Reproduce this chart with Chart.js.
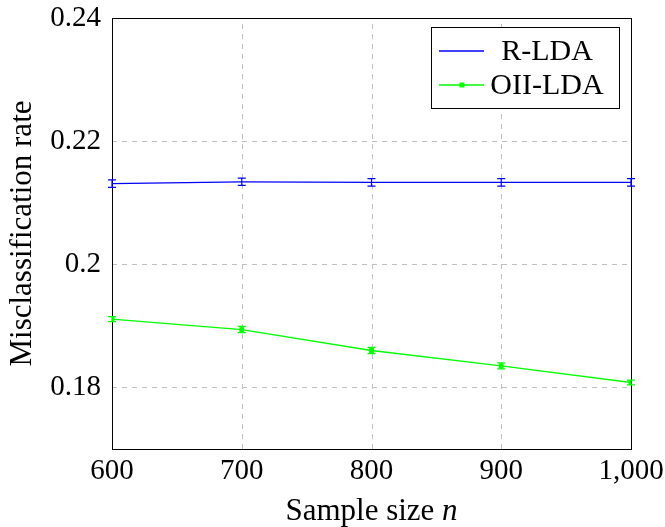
<!DOCTYPE html>
<html>
<head>
<meta charset="utf-8">
<script src="https://cdn.jsdelivr.net/npm/chart.js@4/dist/chart.umd.min.js"></script>
<style>
  html, body { margin: 0; padding: 0; background: #fff; }
  #wrap { width: 665px; height: 527px; }
</style>
</head>
<body>
<div id="wrap"><canvas id="chart"></canvas></div>
<script>
const sampleSizes = [600, 700, 800, 900, 1000];
const rldaRates = [0.2131, 0.2134, 0.2133, 0.2133, 0.2133];
const rldaErrors = [0.0006, 0.0006, 0.0006, 0.0006, 0.0006];
const oiiRates = [0.1911, 0.1894, 0.1860, 0.1835, 0.1808];
const oiiErrors = [0.0004, 0.0005, 0.0005, 0.0005, 0.0004];
const yTickValues = [0.18, 0.2, 0.22, 0.24];
const xTickValues = [600, 700, 800, 900, 1000];

const FONT = "'Liberation Serif', 'DejaVu Serif', serif";

const toPoints = (xs, ys) => xs.map((x, i) => ({ x: x, y: ys[i] }));

// dashed grid + black frame, drawn under the lines
const gridFrame = {
    id: 'gridFrame',
    beforeDatasetsDraw(chart) {
        const a = chart.chartArea;
        const ctx = chart.ctx;
        const xs = chart.scales.x, ys = chart.scales.y;
        ctx.save();
        ctx.strokeStyle = '#c0c0c0';
        ctx.lineWidth = 1;
        ctx.setLineDash([5, 5]);
        xTickValues.forEach(v => {
            const px = Math.round(xs.getPixelForValue(v)) + 0.5;
            ctx.beginPath(); ctx.moveTo(px, a.bottom); ctx.lineTo(px, a.top); ctx.stroke();
        });
        yTickValues.forEach(v => {
            const py = Math.round(ys.getPixelForValue(v)) + 0.5;
            ctx.beginPath(); ctx.moveTo(a.left, py); ctx.lineTo(a.right, py); ctx.stroke();
        });
        ctx.setLineDash([]);
        ctx.strokeStyle = '#000';
        ctx.strokeRect(Math.round(a.left) + 0.5, Math.round(a.top) + 0.5,
            Math.round(a.right - a.left), Math.round(a.bottom - a.top));
        ctx.restore();
    }
};

// error bars drawn from the data arrays through the chart scales
const errorBars = {
    id: 'errorBars',
    afterDatasetsDraw(chart) {
        const ctx = chart.ctx;
        const xs = chart.scales.x, ys = chart.scales.y;
        chart.data.datasets.forEach(ds => {
            ctx.save();
            ctx.strokeStyle = ds.borderColor;
            ctx.lineWidth = 1.2;
            ds.data.forEach((p, i) => {
                const err = ds.errors[i];
                const px = xs.getPixelForValue(p.x);
                const top = ys.getPixelForValue(p.y + err);
                const bot = ys.getPixelForValue(p.y - err);
                ctx.beginPath();
                ctx.moveTo(px, top); ctx.lineTo(px, bot);
                ctx.moveTo(px - 4, top); ctx.lineTo(px + 4, top);
                ctx.moveTo(px - 4, bot); ctx.lineTo(px + 4, bot);
                ctx.stroke();
            });
            ctx.restore();
        });
    }
};

// legend box in the top right and x axis title with italic n
const extras = {
    id: 'extras',
    afterDraw(chart) {
        const ctx = chart.ctx;
        const area = chart.chartArea;
        ctx.save();
        const bx = 431, by = 27, bw = 188, bh = 81;
        ctx.fillStyle = '#fff';
        ctx.fillRect(bx, by, bw, bh);
        ctx.strokeStyle = '#000';
        ctx.lineWidth = 1;
        ctx.strokeRect(bx + 0.5, by + 0.5, bw, bh);
        ctx.font = '30px ' + FONT;
        ctx.textBaseline = 'middle';
        ctx.textAlign = 'center';
        chart.data.datasets.forEach((ds, i) => {
            const cy = by + 24 + i * 34;
            ctx.strokeStyle = ds.borderColor;
            ctx.lineWidth = 1.3;
            ctx.beginPath();
            ctx.moveTo(bx + 8, cy); ctx.lineTo(bx + 53, cy);
            ctx.stroke();
            if (ds.pointRadius > 0) {
                ctx.fillStyle = ds.borderColor;
                ctx.fillRect(bx + 31 - 2.5, cy - 2.5, 5, 5);
            }
            ctx.fillStyle = '#000';
            ctx.fillText(ds.label, bx + 116, cy + 1);
        });
        const t1 = 'Sample size ';
        const t2 = 'n';
        ctx.font = '31px ' + FONT;
        const w1 = ctx.measureText(t1).width;
        ctx.font = 'italic 31px ' + FONT;
        const w2 = ctx.measureText(t2).width;
        const cx = (area.left + area.right) / 2;
        const startX = cx - (w1 + w2) / 2;
        ctx.textAlign = 'left';
        ctx.fillStyle = '#000';
        ctx.font = '31px ' + FONT;
        ctx.fillText(t1, startX, 512);
        ctx.font = 'italic 31px ' + FONT;
        ctx.fillText(t2, startX + w1, 512);
        ctx.restore();
    }
};

new Chart(document.getElementById('chart'), {
    type: 'line',
    data: {
        datasets: [
            {
                label: 'R-LDA',
                data: toPoints(sampleSizes, rldaRates),
                errors: rldaErrors,
                borderColor: '#0000ff',
                backgroundColor: '#0000ff',
                borderWidth: 1.3,
                pointRadius: 0,
                tension: 0
            },
            {
                label: 'OII-LDA',
                data: toPoints(sampleSizes, oiiRates),
                errors: oiiErrors,
                borderColor: '#00ff00',
                backgroundColor: '#00ff00',
                borderWidth: 1.3,
                pointStyle: 'rect',
                pointRadius: 2.5,
                tension: 0
            }
        ]
    },
    options: {
        responsive: true,
        maintainAspectRatio: false,
        animation: false,
        layout: { padding: { top: 18, right: 34, left: 0, bottom: 0 } },
        plugins: {
            legend: { display: false },
            tooltip: { enabled: false }
        },
        scales: {
            x: {
                type: 'linear',
                min: 600,
                max: 1000,
                afterBuildTicks: axis => { axis.ticks = xTickValues.map(v => ({ value: v })); },
                afterFit: axis => {
                    axis.height = 78;
                    axis.paddingLeft = 0;
                    axis.paddingRight = 0;
                },
                ticks: {
                    color: '#000',
                    font: { family: FONT, size: 29 },
                    padding: 5,
                    maxRotation: 0,
                    callback: v => v.toLocaleString('en-US')
                },
                grid: { display: false, drawTicks: false },
                border: { display: false }
            },
            y: {
                min: 0.17,
                max: 0.24,
                afterBuildTicks: axis => { axis.ticks = yTickValues.map(v => ({ value: v })); },
                afterFit: axis => {
                    axis.width = 112;
                    axis.paddingTop = 0;
                    axis.paddingBottom = 0;
                },
                ticks: {
                    color: '#000',
                    font: { family: FONT, size: 29 },
                    padding: 11,
                    callback: v => String(Math.round(v * 100) / 100)
                },
                grid: { display: false, drawTicks: false },
                border: { display: false },
                title: {
                    display: true,
                    text: 'Misclassification rate',
                    color: '#000',
                    font: { family: FONT, size: 31 },
                    padding: { top: 4, bottom: 0 }
                }
            }
        }
    },
    plugins: [gridFrame, errorBars, extras]
});
</script>
</body>
</html>
